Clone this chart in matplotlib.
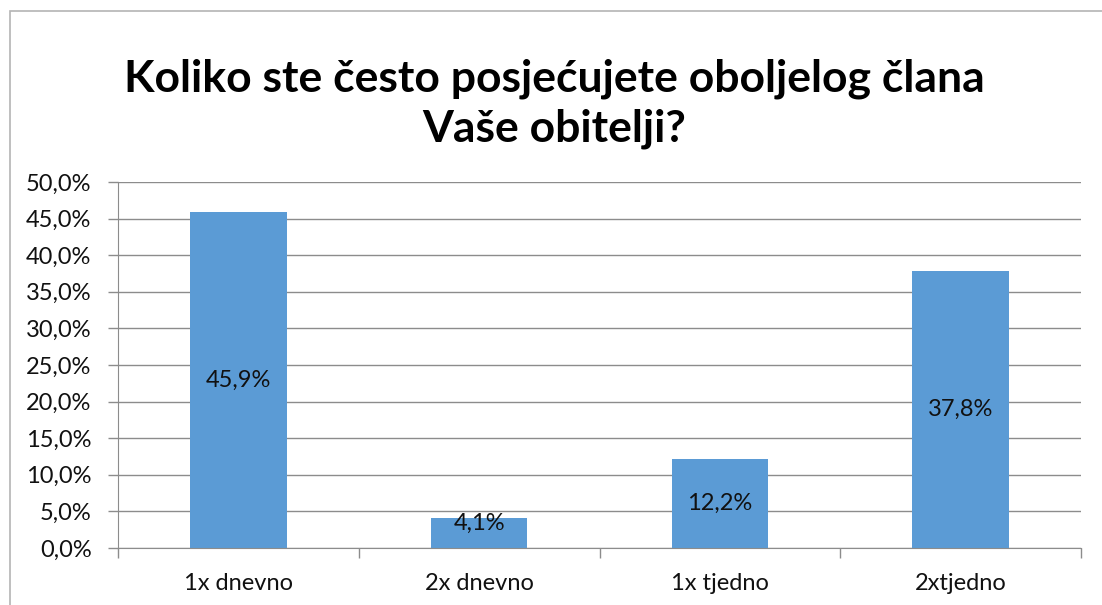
import matplotlib.pyplot as plt
from matplotlib.patches import Rectangle
from matplotlib.ticker import FuncFormatter, MultipleLocator
import numpy as np

# Data
categories = ["1x dnevno", "2x dnevno", "1x tjedno", "2xtjedno"]
values = [45.9, 4.1, 12.2, 37.8]
title = "Koliko ste često posjećujete oboljelog člana\nVaše obitelji?"

plt.rcParams['font.family'] = ['Lato', 'DejaVu Sans']

fig = plt.figure(figsize=(11.02, 6.05), dpi=100)
ax = fig.add_axes([118 / 1102, 1 - 548 / 605, (1081 - 118) / 1102, (548 - 182) / 605])

# Outer chart frame
fig.patches.append(Rectangle((10 / 1102, -0.1), 1.2, 1 - 11 / 605 + 0.1,
                             transform=fig.transFigure, fill=False,
                             edgecolor='#B4B4B4', linewidth=1.2, zorder=0))

x = np.arange(len(categories))
bars = ax.bar(x, values, width=0.4, color='#5B9BD5', zorder=2)

# Data labels centered in bars
for xi, v in zip(x, values):
    ax.text(xi, max(v / 2, 3.4), f"{v:.1f}%".replace('.', ','),
            ha='center', va='center', fontsize=17, color='#111111', zorder=3)

ax.set_xlim(-0.5, len(categories) - 0.5)
ax.set_ylim(0, 50)
ax.yaxis.set_major_locator(MultipleLocator(5))
ax.yaxis.set_major_formatter(FuncFormatter(lambda v, p: f"{v:.1f}%".replace('.', ',')))
ax.yaxis.grid(True, color='#8C8C8C', linewidth=1)
ax.set_axisbelow(True)

ax.set_xticks(x)
ax.set_xticklabels(categories)
ax.set_xticks(np.arange(-0.5, len(categories)), minor=True)
ax.tick_params(axis='x', which='major', length=0, pad=18, labelsize=17, labelcolor='#111111')
ax.tick_params(axis='x', which='minor', length=7, color='#8C8C8C', width=1)
ax.tick_params(axis='y', length=7, color='#8C8C8C', width=1, labelsize=17, pad=12,
               labelcolor='#111111')

for s in ['top', 'right']:
    ax.spines[s].set_visible(False)
ax.spines['left'].set_color('#8C8C8C')
ax.spines['bottom'].set_color('#8C8C8C')

fig.text(0.5 + 3 / 1102, 1 - 104 / 605, title, ha='center', va='center',
         fontsize=32, fontweight='bold', linespacing=1.3)

fig.savefig("out.png", dpi=100)
